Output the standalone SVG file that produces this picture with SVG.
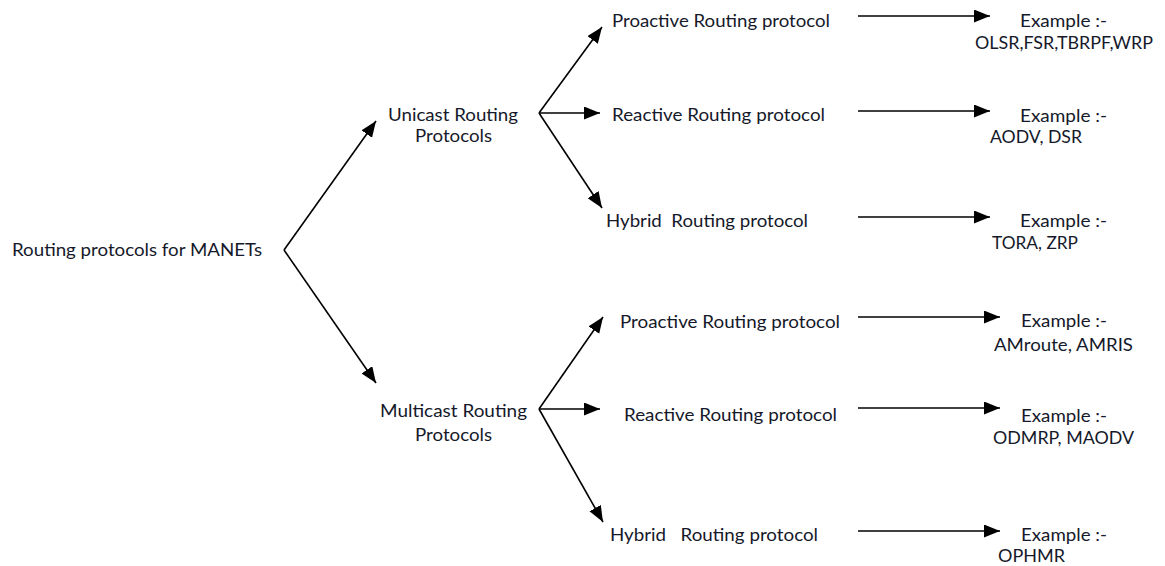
<svg xmlns="http://www.w3.org/2000/svg" width="1165" height="566" viewBox="0 0 1165 566">
  <style>
    text { font-family: Lato, "Open Sans", "Liberation Sans", sans-serif; font-size: 18px; fill: #15192a; white-space: pre; }
    .edge { stroke: #000; stroke-width: 1.6; fill: none; }
  </style>
  <defs>
    <marker id="arrow" markerUnits="userSpaceOnUse" markerWidth="17" markerHeight="14" refX="16" refY="6.5" orient="auto">
      <path d="M0,0 L16,6.5 L0,13 Z" fill="#000"/>
    </marker>
  </defs>
  <rect width="1165" height="566" fill="#fff"/>

  <!-- connectors -->
  <g id="connectors">
    <line class="edge" x1="284" y1="250" x2="376" y2="121" marker-end="url(#arrow)"/>
    <line class="edge" x1="284" y1="250" x2="376" y2="383" marker-end="url(#arrow)"/>

    <line class="edge" x1="539" y1="113" x2="602" y2="27" marker-end="url(#arrow)"/>
    <line class="edge" x1="539" y1="113" x2="600" y2="113" marker-end="url(#arrow)"/>
    <line class="edge" x1="539" y1="113" x2="602" y2="208" marker-end="url(#arrow)"/>

    <line class="edge" x1="539" y1="409" x2="603" y2="317" marker-end="url(#arrow)"/>
    <line class="edge" x1="539" y1="409" x2="600" y2="409" marker-end="url(#arrow)"/>
    <line class="edge" x1="539" y1="409" x2="603" y2="522" marker-end="url(#arrow)"/>

    <line class="edge" x1="858" y1="16" x2="990" y2="16" marker-end="url(#arrow)"/>
    <line class="edge" x1="858" y1="111" x2="990" y2="111" marker-end="url(#arrow)"/>
    <line class="edge" x1="858" y1="217" x2="990" y2="217" marker-end="url(#arrow)"/>
    <line class="edge" x1="858" y1="317" x2="1000" y2="317" marker-end="url(#arrow)"/>
    <line class="edge" x1="858" y1="408" x2="1000" y2="408" marker-end="url(#arrow)"/>
    <line class="edge" x1="858" y1="531" x2="1000" y2="531" marker-end="url(#arrow)"/>
  </g>

  <!-- root -->
  <g id="root">
    <text x="12" y="256" textLength="250" lengthAdjust="spacingAndGlyphs">Routing protocols for MANETs</text>
  </g>

  <!-- second level -->
  <g id="unicast">
    <text x="388" y="121" textLength="130" lengthAdjust="spacingAndGlyphs">Unicast Routing</text>
    <text x="415" y="142" textLength="77" lengthAdjust="spacingAndGlyphs">Protocols</text>
  </g>
  <g id="multicast">
    <text x="380" y="417" textLength="147" lengthAdjust="spacingAndGlyphs">Multicast Routing</text>
    <text x="415" y="441" textLength="77" lengthAdjust="spacingAndGlyphs">Protocols</text>
  </g>

  <!-- unicast branches -->
  <g id="uni-proactive">
    <text x="612" y="27" textLength="218" lengthAdjust="spacingAndGlyphs">Proactive Routing protocol</text>
  </g>
  <g id="uni-reactive">
    <text x="612" y="121" textLength="213" lengthAdjust="spacingAndGlyphs">Reactive Routing protocol</text>
  </g>
  <g id="uni-hybrid">
    <text x="606" y="227" textLength="202" lengthAdjust="spacingAndGlyphs">Hybrid  Routing protocol</text>
  </g>

  <!-- multicast branches -->
  <g id="multi-proactive">
    <text x="620" y="328" textLength="220" lengthAdjust="spacingAndGlyphs">Proactive Routing protocol</text>
  </g>
  <g id="multi-reactive">
    <text x="624" y="421" textLength="213" lengthAdjust="spacingAndGlyphs">Reactive Routing protocol</text>
  </g>
  <g id="multi-hybrid">
    <text x="610" y="541" textLength="208" lengthAdjust="spacingAndGlyphs">Hybrid   Routing protocol</text>
  </g>

  <!-- examples -->
  <g id="ex-uni-proactive">
    <text x="1020" y="27" textLength="87" lengthAdjust="spacingAndGlyphs">Example :-</text>
    <text x="975" y="49" textLength="178" lengthAdjust="spacingAndGlyphs">OLSR,FSR,TBRPF,WRP</text>
  </g>
  <g id="ex-uni-reactive">
    <text x="1020" y="122" textLength="87" lengthAdjust="spacingAndGlyphs">Example :-</text>
    <text x="990" y="143" textLength="92" lengthAdjust="spacingAndGlyphs">AODV, DSR</text>
  </g>
  <g id="ex-uni-hybrid">
    <text x="1020" y="227" textLength="87" lengthAdjust="spacingAndGlyphs">Example :-</text>
    <text x="992" y="249" textLength="86" lengthAdjust="spacingAndGlyphs">TORA, ZRP</text>
  </g>
  <g id="ex-multi-proactive">
    <text x="1021" y="327" textLength="86" lengthAdjust="spacingAndGlyphs">Example :-</text>
    <text x="994" y="351" textLength="139" lengthAdjust="spacingAndGlyphs">AMroute, AMRIS</text>
  </g>
  <g id="ex-multi-reactive">
    <text x="1021" y="422" textLength="86" lengthAdjust="spacingAndGlyphs">Example :-</text>
    <text x="993" y="444" textLength="141" lengthAdjust="spacingAndGlyphs">ODMRP, MAODV</text>
  </g>
  <g id="ex-multi-hybrid">
    <text x="1021" y="541" textLength="86" lengthAdjust="spacingAndGlyphs">Example :-</text>
    <text x="998" y="562" textLength="67" lengthAdjust="spacingAndGlyphs">OPHMR</text>
  </g>
</svg>
